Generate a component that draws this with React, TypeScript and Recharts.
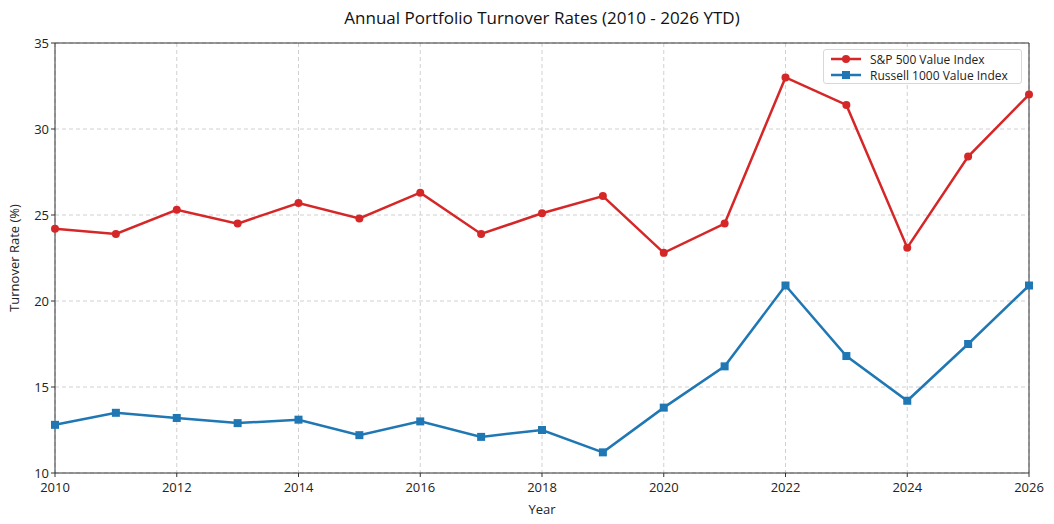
import React from "react";
import {
  LineChart,
  Line,
  XAxis,
  YAxis,
  CartesianGrid,
  ReferenceLine,
  Label,
} from "recharts";

// values read off the reference picture
const years = [
  2010, 2011, 2012, 2013, 2014, 2015, 2016, 2017, 2018, 2019, 2020, 2021, 2022,
  2023, 2024, 2025, 2026,
];
const sp500Value = [
  24.2, 23.9, 25.3, 24.5, 25.7, 24.8, 26.3, 23.9, 25.1, 26.1, 22.8, 24.5, 33.0,
  31.4, 23.1, 28.4, 32.0,
];
const russell1000Value = [
  12.8, 13.5, 13.2, 12.9, 13.1, 12.2, 13.0, 12.1, 12.5, 11.2, 13.8, 16.2, 20.9,
  16.8, 14.2, 17.5, 20.9,
];
const xTicks = [2010, 2012, 2014, 2016, 2018, 2020, 2022, 2024, 2026];
const yTicks = [10, 15, 20, 25, 30, 35];

const data = years.map((year, i) => ({
  year,
  sp: sp500Value[i],
  russell: russell1000Value[i],
}));

const RED = "#d62728";
const BLUE = "#1f77b4";
const FONT = "'Open Sans', sans-serif";

const SquareDot = (props: any) => {
  const { cx, cy } = props;
  if (cx == null || cy == null) return null;
  return <rect x={cx - 4} y={cy - 4} width={8} height={8} fill={BLUE} />;
};

const legendItems = [
  { name: "S&P 500 Value Index", color: RED, square: false },
  { name: "Russell 1000 Value Index", color: BLUE, square: true },
];

const LegendBox = () => (
  <div
    style={{
      position: "absolute",
      left: 823,
      top: 49,
      width: 199,
      height: 35,
      boxSizing: "border-box",
      background: "rgba(255,255,255,0.9)",
      border: "1px solid #d8d8d8",
      borderRadius: 3,
      padding: "1px 0 0 6px",
      fontFamily: FONT,
      fontSize: 12,
      color: "#222",
    }}
  >
    {legendItems.map((it) => (
      <div
        key={it.name}
        style={{ display: "flex", alignItems: "center", height: 16 }}
      >
        <svg width={32} height={12} style={{ marginRight: 8 }}>
          <line x1={1} y1={6} x2={31} y2={6} stroke={it.color} strokeWidth={2.5} />
          {it.square ? (
            <rect x={12} y={2} width={8} height={8} fill={it.color} />
          ) : (
            <circle cx={16} cy={6} r={4} fill={it.color} />
          )}
        </svg>
        <span>{it.name}</span>
      </div>
    ))}
  </div>
);

export default function App() {
  return (
    <div
      style={{
        position: "absolute",
        left: 0,
        top: 0,
        width: 1054,
        height: 524,
        background: "#fff",
      }}
    >
      <div
        style={{
          position: "absolute",
          left: 55,
          width: 974,
          top: 6,
          textAlign: "center",
          fontFamily: FONT,
          fontSize: 17,
          color: "#111",
        }}
      >
        Annual Portfolio Turnover Rates (2010 - 2026 YTD)
      </div>
      <LineChart
        width={1054}
        height={524}
        data={data}
        margin={{ top: 43, right: 25, bottom: 0, left: 0 }}
      >
        <CartesianGrid stroke="#d0d0d0" strokeDasharray="4 3" />
        <XAxis
          dataKey="year"
          type="number"
          domain={[2010, 2026]}
          ticks={xTicks}
          height={51}
          stroke="#333"
          tickSize={4}
          tickMargin={6}
          tick={{ fill: "#222", fontSize: 13, fontFamily: FONT }}
        >
          <Label
            value="Year"
            position="insideBottom"
            offset={10}
            style={{ fill: "#222", fontSize: 13, fontFamily: FONT }}
          />
        </XAxis>
        <YAxis
          type="number"
          domain={[10, 35]}
          ticks={yTicks}
          width={55}
          stroke="#333"
          tickSize={4}
          tickMargin={2}
          tick={{ fill: "#222", fontSize: 13, fontFamily: FONT }}
        >
          <Label
            value="Turnover Rate (%)"
            angle={-90}
            position="insideLeft"
            offset={14}
            style={{
              fill: "#222",
              fontSize: 13,
              fontFamily: FONT,
              textAnchor: "middle",
            }}
          />
        </YAxis>
        <ReferenceLine y={35} stroke="#333" />
        <ReferenceLine x={2026} stroke="#333" />
        <Line
          dataKey="sp"
          name="S&P 500 Value Index"
          stroke={RED}
          strokeWidth={2.5}
          dot={{ r: 4, fill: RED, stroke: RED, strokeWidth: 0 }}
          isAnimationActive={false}
        />
        <Line
          dataKey="russell"
          name="Russell 1000 Value Index"
          stroke={BLUE}
          strokeWidth={2.5}
          dot={<SquareDot />}
          isAnimationActive={false}
        />
      </LineChart>
      <LegendBox />
    </div>
  );
}
